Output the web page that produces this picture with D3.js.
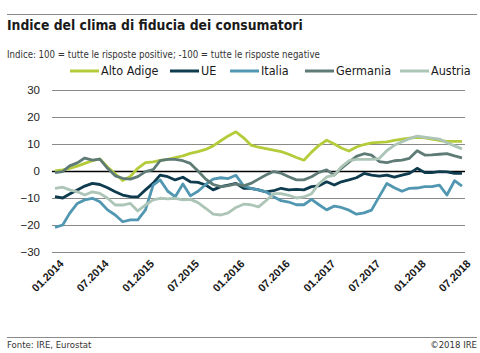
<!DOCTYPE html>
<html>
<head>
<meta charset="utf-8">
<script src="https://cdn.jsdelivr.net/npm/d3@7"></script>
<style>
  body { margin: 0; background: #fff; }
  svg { display: block; font-family: "Liberation Sans Narrow", "DejaVu Sans Condensed", sans-serif; }
</style>
</head>
<body>
<div id="chart"></div>
<script>
// mesi: 01.2014 - 07.2018
const start = new Date(2014, 0, 1);
const end = new Date(2018, 6, 1);
const tickLabels = ["01.2014", "07.2014", "01.2015", "07.2015", "01.2016", "07.2016", "01.2017", "07.2017", "01.2018", "07.2018"];
const yTicks = [-30, -20, -10, 0, 10, 20, 30];

const altoAdige = [0, 0.4, 1, 1.8, 2.8, 3.8, 4.5, 1.5, -1, -3.5, -2, 1, 3.1, 3.4, 3.9, 4.3, 5, 5.6, 6.5, 7.2, 8, 9.3, 11.2, 13, 14.5, 12.3, 9.6, 8.8, 8.3, 7.7, 7.2, 6.2, 5, 4, 7, 9.5, 11.4, 10, 8.5, 7.4, 8.9, 9.8, 10.4, 10.6, 10.8, 11.3, 11.8, 12.2, 12.5, 12.3, 11.8, 11.3, 11, 11, 11];
const ue = [-9.5, -10, -8.5, -7, -5.6, -4.6, -5, -6.2, -7.7, -8.9, -9.5, -9.6, -7, -4.5, -1.5, -2.1, -3.3, -2.3, -4, -4.2, -5.2, -7, -5.8, -5.2, -4.6, -6.4, -6.4, -7, -7.7, -7.3, -6.4, -7, -6.8, -7, -5.8, -5.5, -4, -5.2, -4, -3.3, -2.5, -0.9, -1.5, -1.9, -1.5, -2.3, -1.5, -0.9, 1, -0.6, -0.6, -0.2, -0.3, -0.9, -0.9];
const italia = [-20.9, -20, -15.7, -12, -10.7, -10.1, -11.4, -14.4, -16.3, -18.8, -18.1, -18.1, -14.4, -5.2, -3.3, -7.5, -9.5, -4.8, -9.2, -7.5, -5, -3, -2.5, -2.8, -1.6, -5.5, -6.4, -7, -7.7, -9.5, -11, -11.5, -12.5, -12.5, -10.5, -12.5, -14.4, -13, -13.5, -14.5, -16, -15.5, -14.5, -9.5, -4.6, -6.2, -7.5, -6.4, -6.3, -5.8, -5.8, -5.2, -8.9, -3.6, -5.6];
const germania = [-0.6, -0.2, 1.9, 3, 4.8, 4, 4.4, 1, -1.8, -2.7, -3, -2.1, -0.2, 0.5, 3.8, 4.3, 4.3, 3.8, 2.8, 0, -3, -5, -5.8, -5.4, -4.8, -5.5, -4.6, -3, -1.5, -0.2, -0.8, -2.1, -3.3, -3.3, -2.1, -0.5, 0.4, -1.5, 1, 3.3, 5.4, 6.4, 5.9, 3.5, 3.1, 3.8, 4, 4.7, 7.5, 5.9, 6, 6.2, 6.4, 5.6, 4.9];
const austria = [-6.4, -6, -7, -7.7, -8.9, -7.7, -8.3, -10.1, -12.6, -12.6, -12, -14.8, -12.6, -10.7, -10.1, -10.3, -10.1, -10.7, -10.5, -11.7, -13.8, -16, -16.3, -15.5, -13.5, -12.3, -12.5, -13.3, -11, -8.4, -8.4, -9, -10, -9.6, -8.4, -4.7, -2.2, -1.5, 1.5, 3.8, 4.3, 4.3, 4.3, 4.6, 7.6, 9.5, 10.8, 12, 12.9, 12.5, 12.2, 11.8, 10.5, 9.3, 8.2];

const seriesNames = ["Alto Adige", "UE", "Italia", "Germania", "Austria"];
const seriesColors = ["#b4cb3a", "#0e3b4e", "#5197b1", "#5f7b75", "#adc5b7"];
const seriesValues = [altoAdige, ue, italia, germania, austria];

const width = 480, height = 353;
const months = d3.timeMonth.range(start, d3.timeMonth.offset(end, 1));

const svg = d3.select("#chart").append("svg")
    .attr("width", width)
    .attr("height", height);

const x = d3.scaleTime().domain([start, end]).range([55, 462]);
const y = d3.scaleLinear().domain([-30, 30]).range([252, 90]);

// linee di separazione
svg.append("line").attr("x1", 7).attr("x2", 477).attr("y1", 14.5).attr("y2", 14.5)
    .attr("stroke", "#8a8a8a").attr("stroke-width", 1);
svg.append("line").attr("x1", 7).attr("x2", 477).attr("y1", 337.5).attr("y2", 337.5)
    .attr("stroke", "#8a8a8a").attr("stroke-width", 1);

// titolo
svg.append("text").attr("x", 7).attr("y", 30)
    .attr("font-size", 13.8).attr("font-weight", "bold").attr("fill", "#1a1a1a")
    .text("Indice del clima di fiducia dei consumatori");
svg.append("text").attr("x", 7).attr("y", 58)
    .attr("font-size", 9.6).attr("fill", "#333")
    .text("Indice: 100 = tutte le risposte positive; -100 =  tutte le risposte negative");

// legenda
const legendX = [70, 170, 230, 305, 400];
const legend = svg.append("g").selectAll("g")
    .data(seriesNames)
    .enter().append("g")
    .attr("transform", (d, i) => `translate(${legendX[i]},71)`);
legend.append("line").attr("x1", 0).attr("x2", 29)
    .attr("stroke", (d, i) => seriesColors[i]).attr("stroke-width", 3);
legend.append("text").attr("x", 31).attr("dy", "0.35em")
    .attr("font-size", 12.5).attr("fill", "#1a1a1a")
    .text(d => d);

// griglia
const yAxis = d3.axisLeft(y).tickValues(yTicks).tickSize(-(465 - 52)).tickPadding(12)
    .tickFormat(d3.format("d"));
const gy = svg.append("g").attr("transform", "translate(52,0)").call(yAxis);
gy.select(".domain").remove();
gy.selectAll(".tick line")
    .attr("stroke", d => d === 0 ? "#000" : "#8a8a8a")
    .attr("stroke-width", d => d === 0 ? 1.6 : 1);
gy.selectAll(".tick text")
    .attr("font-family", "'Liberation Sans', 'DejaVu Sans', sans-serif")
    .attr("font-size", 11.5).attr("fill", "#222");

// linee dei dati
const line = d3.line()
    .x((d, i) => x(months[i]))
    .y(d => y(d));
svg.append("g").selectAll("path")
    .data(seriesValues)
    .enter().append("path")
    .attr("d", d => line(d))
    .attr("fill", "none")
    .attr("stroke", (d, i) => seriesColors[i])
    .attr("stroke-width", 2.8)
    .attr("stroke-linejoin", "round");

// etichette asse x
const tickDates = tickLabels.map(s => new Date(+s.slice(3), +s.slice(0, 2) - 1, 1));
svg.append("g").selectAll("text")
    .data(tickLabels)
    .enter().append("text")
    .attr("transform", (d, i) => `translate(${x(tickDates[i]) + 4},259) rotate(-45)`)
    .attr("text-anchor", "end")
    .attr("dy", "0.7em")
    .attr("font-family", "'Liberation Sans', 'DejaVu Sans', sans-serif")
    .attr("font-size", 11).attr("font-weight", "bold").attr("fill", "#1a1a1a")
    .text(d => d);

// fonte
svg.append("text").attr("x", 7).attr("y", 348)
    .attr("font-size", 9.5).attr("fill", "#333")
    .text("Fonte:  IRE, Eurostat");
svg.append("text").attr("x", 477).attr("y", 348).attr("text-anchor", "end")
    .attr("font-size", 9.5).attr("fill", "#333")
    .text("©2018 IRE");
</script>
</body>
</html>
